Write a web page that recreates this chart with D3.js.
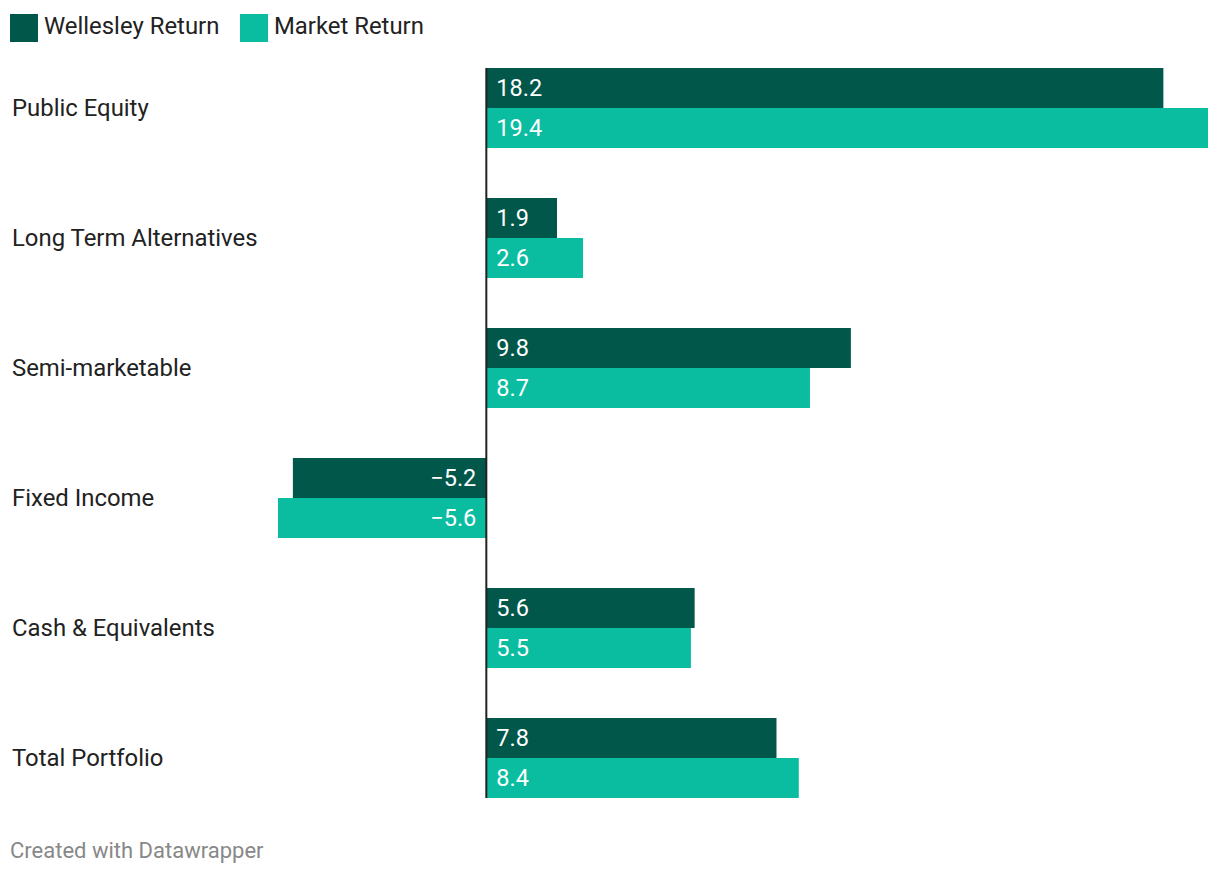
<!DOCTYPE html>
<html><head><meta charset="utf-8">
<script src="https://cdn.jsdelivr.net/npm/d3@7"></script>
<style>body{margin:0;background:#fff;font-family:Roboto,sans-serif}</style>
</head><body>
<svg id="c" width="1220" height="876"></svg>
<script>
const categories = ["Public Equity","Long Term Alternatives","Semi-marketable","Fixed Income","Cash & Equivalents","Total Portfolio"];
const wellesley = [18.2, 1.9, 9.8, -5.2, 5.6, 7.8];
const market = [19.4, 2.6, 8.7, -5.6, 5.5, 8.4];
const seriesNames = ["Wellesley Return","Market Return"];
const colors = ["#01574a","#0abda0"];

const svg = d3.select("#c");
const x = d3.scaleLinear().domain([-5.6, 19.4]).range([278, 1208]);
const y = d3.scaleBand().domain(categories).range([43, 823]).paddingInner(0.3846).paddingOuter(0.1923);
const inner = d3.scaleBand().domain([0,1]).range([0, y.bandwidth()]);
const fmt = v => (v < 0 ? "\u2212" : "") + Math.abs(v).toFixed(1);

// legend
const lg = svg.append("g");
const lx = [10, 240];
seriesNames.forEach((n,i)=>{
  lg.append("rect").attr("x",lx[i]).attr("y",14).attr("width",28).attr("height",28).attr("fill",colors[i]);
  lg.append("text").attr("x",lx[i]+34).attr("y",34).attr("font-size",23.9).attr("fill","#222").text(n);
});

const data = [wellesley, market];
categories.forEach((c,ci)=>{
  const g = svg.append("g");
  g.append("text").attr("x",12).attr("y",y(c)+y.bandwidth()/2+8).attr("font-size",23.9).attr("fill","#222").text(c);
  data.forEach((arr,si)=>{
    const v = arr[ci];
    const y0 = y(c)+inner(si);
    const x0 = v>=0 ? x(0) : x(v);
    const w = Math.abs(x(v)-x(0));
    g.append("rect").attr("x",x0).attr("y",y0).attr("width",w).attr("height",inner.bandwidth()).attr("fill",colors[si]);
    g.append("text").attr("x", v>=0 ? x(0)+10 : x(0)-10)
      .attr("text-anchor", v>=0 ? "start":"end")
      .attr("y", y0+inner.bandwidth()/2+8).attr("font-size",23.5).attr("fill","#fff").text(fmt(v));
  });
});
svg.append("line").attr("x1",x(0)).attr("x2",x(0)).attr("y1",y(categories[0])).attr("y2",y(categories[categories.length-1])+y.bandwidth())
  .attr("stroke","#222").attr("stroke-width",2);

svg.append("text").attr("x",10).attr("y",858).attr("font-size",22).attr("fill","#888").text("Created with Datawrapper");
</script>
</body></html>
